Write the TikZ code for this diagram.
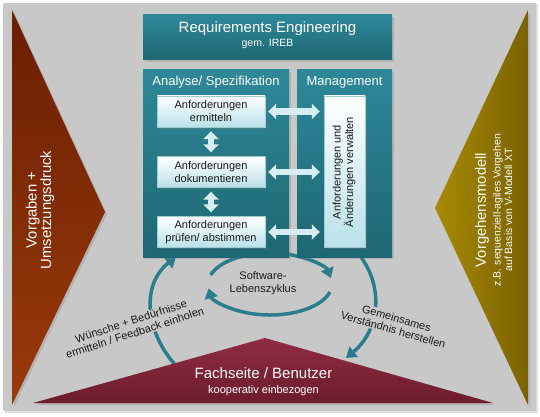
\documentclass[tikz,border=0pt]{standalone}
\usepackage{fontspec}
\setmainfont{Liberation Sans}
\usetikzlibrary{arrows.meta,shadows}
\definecolor{bggray}{HTML}{C8C8C8}
\definecolor{tealA}{HTML}{2E8898}
\definecolor{tealB}{HTML}{1E6774}
\definecolor{brownA}{HTML}{6A1F03}
\definecolor{brownB}{HTML}{9A3A0A}
\definecolor{oliveA}{HTML}{A88A05}
\definecolor{oliveB}{HTML}{7A6200}
\definecolor{maroonA}{HTML}{902C42}
\definecolor{maroonB}{HTML}{6C1C2D}
\definecolor{wboxB}{HTML}{BAE1E9}
\definecolor{boxline}{HTML}{9CCBD4}
\definecolor{arrowfill}{HTML}{D6EEF2}
\definecolor{cycteal}{HTML}{2A7E8C}
\definecolor{txt}{HTML}{1A1A1A}
\tikzset{
  shad/.style={drop shadow={opacity=0.3,shadow xshift=2pt,shadow yshift=-2pt}},
  tealbox/.style={top color=tealA, bottom color=tealB, shad, inner sep=0pt},
  wbox/.style={draw=boxline, line width=0.4pt, top color=white, bottom color=wboxB,
    minimum width=108pt, minimum height=31pt, align=center,
    font=\fontsize{11}{13}\selectfont, text=txt, inner sep=0pt,
    drop shadow={opacity=0.3,shadow xshift=1.5pt,shadow yshift=-1.5pt}},
  dbl/.style={draw=arrowfill, line width=6pt,
    {Triangle[width=15pt,length=8pt]}-{Triangle[width=15pt,length=8pt]}},
  cyc/.style={draw=cycteal, line width=3.5pt, -{Triangle[width=13pt,length=10pt]}},
  lbl/.style={fill=bggray, text=txt, align=center, font=\fontsize{11}{12}\selectfont, inner sep=1pt},
  wtxt/.style={text=white, align=center},
}
\begin{document}
\begin{tikzpicture}[x=1pt,y=-1pt]
\useasboundingbox (0,0) rectangle (540,417);
\fill[white] (0,0) rectangle (540,417);
\fill[bggray, drop shadow={opacity=0.25,shadow xshift=1.5pt,shadow yshift=-1.5pt}] (3,3) rectangle (536,411);

% side triangles
\path[top color=brownA, bottom color=brownB, shad] (12,10) -- (105,212) -- (12,405) -- cycle;
\path[left color=oliveA, right color=oliveB, shad] (528,10) -- (435,208) -- (528,405) -- cycle;
\node[wtxt, rotate=90, font=\fontsize{14.8}{14.5}\selectfont] (vorg) at (40,210) {Vorgaben +\\Umsetzungsdruck};
\node[wtxt, rotate=90, font=\fontsize{14.8}{16}\selectfont] (vm) at (482,210) {Vorgehensmodell};
\node[wtxt, rotate=90, font=\fontsize{10.5}{11.5}\selectfont] (vmsub) at (502.5,210) {z.B. sequenziell-agiles Vorgehen\\auf Basis von V-Modell XT};

% outer cycle arcs
\coordinate (la) at (180,370);
\coordinate (lb) at (176,257);
\coordinate (ra) at (357,252);
\coordinate (rb) at (346,358);
\draw[cyc] (la) .. controls (145,335) and (140,285) .. (lb);
\draw[cyc] (ra) .. controls (385,285) and (380,330) .. (rb);

% bottom triangle
\path[top color=maroonA, bottom color=maroonB, shad] (33,403) -- (265,338) -- (493,403) -- cycle;
\node[wtxt, font=\fontsize{15}{16}\selectfont] (fach) at (263.5,373) {Fachseite / Benutzer};
\node[wtxt, font=\fontsize{11}{12}\selectfont] (koop) at (263.5,391) {kooperativ einbezogen};

% labels on outer arcs
\node[lbl, rotate=18] (wun) at (133,327) {Wünsche + Bedürfnisse\\ermitteln / Feedback einholen};
\node[lbl, rotate=-16] (gem) at (395,324) {Gemeinsames\\Verständnis herstellen};

% inner cycle
\coordinate (cc) at (270,284);
\node[text=txt, align=center, font=\fontsize{11}{13}\selectfont] (slc) at (263,283) {Software-\\Lebenszyklus};
\draw[cyc] (cc) ++(-163:62 and 31) arc[start angle=-163, end angle=-11, x radius=62, y radius=31];
\draw[cyc] (cc) ++(15:62 and 31) arc[start angle=15, end angle=172, x radius=62, y radius=31];

% teal boxes
\node[tealbox, minimum width=249pt, minimum height=45pt] (re) at (267.5,37.5) {};
\node[wtxt, font=\fontsize{15}{16}\selectfont] (ret) at (267.5,28.5) {Requirements Engineering};
\node[wtxt, font=\fontsize{10.5}{12}\selectfont] (reb) at (267.5,44) {gem. IREB};
\node[tealbox, minimum width=146pt, minimum height=187pt] (an) at (216,163.5) {};
\node[tealbox, minimum width=95pt, minimum height=187pt] (mg) at (344.5,163.5) {};
\node[wtxt, font=\fontsize{13}{14}\selectfont] (ant) at (216,82) {Analyse/ Spezifikation};
\node[wtxt, font=\fontsize{13}{14}\selectfont] (mgt) at (344.5,82) {Management};

% white boxes
\node[wbox] (b1) at (211,111.5) {Anforderungen\\ermitteln};
\node[wbox] (b2) at (211,172) {Anforderungen\\dokumentieren};
\node[wbox] (b3) at (211,232) {Anforderungen\\prüfen/ abstimmen};
\node[wbox, minimum width=41pt, minimum height=151pt] (mi) at (344.5,171.5) {};
\node[rotate=90, text=txt, align=center, font=\fontsize{11}{12.5}\selectfont] (mit) at (344,172) {Anforderungen und\\Änderungen verwalten};

% double arrows
\draw[dbl, shorten <=4pt, shorten >=4pt] (b1.south) -- (b2.north);
\draw[dbl, shorten <=4pt, shorten >=4pt] (b2.south) -- (b3.north);
\draw[dbl, shorten <=3pt, shorten >=4pt] (b1.east) -- (mi.west |- b1.east);
\draw[dbl, shorten <=3pt, shorten >=4pt] (b2.east) -- (mi.west |- b2.east);
\draw[dbl, shorten <=3pt, shorten >=4pt] (b3.east) -- (mi.west |- b3.east);
\end{tikzpicture}
\end{document}
